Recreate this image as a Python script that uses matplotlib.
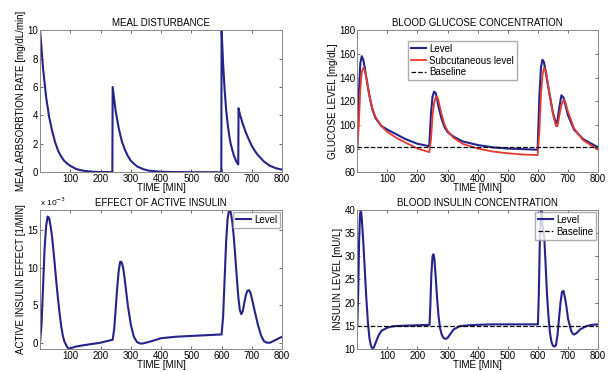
import matplotlib
matplotlib.use('Agg')
from matplotlib import pyplot as plt

plt.rcParams['font.family'] = ['Liberation Sans', 'DejaVu Sans']
plt.rcParams['font.size'] = 7

# meal disturbance
t_meal = [0,10,20,30,40,50,60,70,80,90,100,120,140,160,180,200,220,239,
          240,250,260,270,280,290,300,320,340,360,400,450,500,550,599,
          600,605,610,615,620,625,630,640,650,655,
          656,660,670,680,690,700,710,720,740,760,780,800]
meal = [10,7.3,5.3,3.9,2.9,2.1,1.5,1.1,0.8,0.6,0.45,0.22,0.12,0.06,0.03,0.015,0.01,0.01,
        6.0,4.3,3.1,2.2,1.6,1.15,0.8,0.42,0.22,0.11,0.03,0.01,0.0,0.0,0.0,
        10,7.6,5.8,4.4,3.4,2.6,2.0,1.2,0.7,0.55,
        4.5,4.1,3.4,2.8,2.3,1.85,1.5,1.2,0.75,0.45,0.28,0.18]

# blood glucose
t_glu = [0,5,10,15,20,25,30,40,50,60,80,100,130,160,200,239,
         245,250,255,260,265,270,280,290,300,320,350,400,450,500,550,599,
         605,610,615,620,625,630,640,650,660,665,670,678,685,690,700,720,750,800]
glu_level = [81,125,152,158,155,148,140,125,113,106,99,96,92,88,84,82,
             110,124,128,127,122,115,105,98,94,90,86,83,81,80,79.5,79,
             125,148,155,153,146,138,124,110,101,104,113,125,123,118,108,96,88,81]
glu_sub = [81,100,130,145,148,146,140,125,114,107,99,94,89,85,80,77,
           88,108,118,123,124,120,109,100,95,89,84,80,77.5,76,75,74.5,
           95,125,142,148,147,140,124,109,99,99,106,117,121,120,111,97,87,79]
glu_base = 81

# active insulin effect (x 10^-3)
t_eff = [0,5,10,15,20,25,30,35,40,45,50,55,60,65,70,75,80,90,95,100,120,150,200,240,
         245,250,255,260,265,270,275,280,285,290,300,310,320,330,340,360,400,450,500,550,600,
         605,610,615,620,625,630,635,640,645,650,655,660,665,670,675,680,685,690,695,
         700,710,720,730,740,750,760,770,780,800]
eff = [0,2.5,7.5,12.5,15.5,16.8,16.6,15.5,14.0,12.0,9.8,7.6,5.6,3.8,2.2,1.0,0.2,-0.6,-0.8,-0.75,-0.5,-0.3,0,0.4,
       1.8,4.5,7.3,9.6,10.8,10.7,9.9,8.4,6.7,5.0,2.4,0.8,0.1,-0.1,-0.1,0.1,0.6,0.8,0.9,1.0,1.1,
       3.5,8.5,13.5,16.6,17.7,17.4,16.2,14.2,11.6,8.8,6.2,4.4,3.8,4.2,5.3,6.3,6.9,7.0,6.7,
       5.9,4.1,2.4,1.0,0.2,0.0,0.0,0.2,0.4,0.8]

# blood insulin
t_ins = [0,3,6,9,12,15,20,25,30,35,40,45,50,55,60,70,80,100,120,150,200,240,
         243,246,250,253,256,260,265,270,275,280,285,290,295,300,310,320,340,370,400,450,500,550,600,
         603,606,609,612,615,618,621,625,630,635,640,645,650,655,660,665,670,675,680,685,690,695,
         700,710,715,720,730,740,760,780,800]
ins = [15,22,33,39,40,38,33,27,21,16,12.5,10.8,10.1,10.3,11.2,12.8,13.9,14.6,14.9,15.0,15.1,15.2,
       20,26,30,30.4,29.5,26,21,17,14.5,13.2,12.5,12.2,12.2,12.4,13.3,14.2,14.9,15.1,15.2,15.3,15.3,15.3,15.3,
       22,32,38,40,37,35.5,34,29,22,17,13.5,11.5,10.7,10.5,10.8,13,16.5,20,22.3,22.5,21,19,
       16.5,14,13.3,13.1,13.5,14.2,14.9,15.2,15.3]
ins_base = 15

blue = '#24248c'
red = '#e8392d'
xt = [100,200,300,400,500,600,700,800]

fig = plt.figure(figsize=(6.16, 3.72), dpi=100)
ax1 = fig.add_axes([0.065, 0.537, 0.393, 0.382])
ax2 = fig.add_axes([0.580, 0.537, 0.391, 0.382])
ax3 = fig.add_axes([0.065, 0.062, 0.393, 0.374])
ax4 = fig.add_axes([0.580, 0.062, 0.391, 0.374])

ax1.plot(t_meal, meal, color=blue, lw=1.5)
ax1.set_ylim(0, 10)
ax1.set_yticks([0,2,4,6,8,10])
ax1.set_title('MEAL DISTURBANCE', fontsize=7, pad=3)
ax1.set_ylabel('MEAL ARBSORBTION RATE [mg/dL/min]', labelpad=1)

ax2.plot(t_glu, glu_level, color=blue, lw=1.5, label='Level')
ax2.plot(t_glu, glu_sub, color=red, lw=1.3, label='Subcutaneous level')
ax2.axhline(glu_base, color='black', ls='--', lw=0.9, label='Baseline')
ax2.set_ylim(60, 180)
ax2.set_yticks([60,80,100,120,140,160,180])
ax2.set_title('BLOOD GLUCOSE CONCENTRATION', fontsize=7, pad=3)
ax2.set_ylabel('GLUCOSE LEVEL [mg/dL]', labelpad=1)
ax2.legend(loc='upper left', bbox_to_anchor=(0.19, 0.96), fontsize=7, frameon=True,
           fancybox=False, edgecolor='#999999', handlelength=1.6, borderpad=0.3,
           labelspacing=0.2, handletextpad=0.3)

ax3.plot(t_eff, eff, color=blue, lw=1.5, label='Level')
ax3.set_ylim(-0.83, 17.7)
ax3.set_yticks([0,5,10,15])
ax3.set_title('EFFECT OF ACTIVE INSULIN', fontsize=7, pad=3)
ax3.set_ylabel('ACTIVE INSULIN EFFECT [1/MIN]', labelpad=1)
ax3.text(0.0, 1.01, 'x 10$^{-3}$', transform=ax3.transAxes, fontsize=6, ha='left', va='bottom')
ax3.legend(loc='upper right', fontsize=7, frameon=True, fancybox=False, edgecolor='#999999',
           handlelength=1.6, borderpad=0.3, handletextpad=0.3, borderaxespad=0.2)

ax4.plot(t_ins, ins, color=blue, lw=1.5, label='Level')
ax4.axhline(ins_base, color='black', ls='--', lw=0.9, label='Baseline')
ax4.set_ylim(10, 40)
ax4.set_yticks([10,15,20,25,30,35,40])
ax4.set_title('BLOOD INSULIN CONCENTRATION', fontsize=7, pad=3)
ax4.set_ylabel('INSULIN LEVEL [mU/L]', labelpad=1)
ax4.legend(loc='upper right', fontsize=7, frameon=True, fancybox=False, edgecolor='#999999',
           handlelength=1.6, borderpad=0.3, labelspacing=0.2, handletextpad=0.3, borderaxespad=0.2)

for ax in [ax1, ax2, ax3, ax4]:
    ax.set_xlim(0, 800)
    ax.set_xticks(xt)
    ax.set_xlabel('TIME [MIN]', labelpad=-1)
    ax.tick_params(direction='in', length=2.5, width=0.6, labelsize=7, pad=1.5,
                   top=True, right=True, colors='#555555', labelcolor='black')
    for s in ax.spines.values():
        s.set_color('#888888')
        s.set_linewidth(0.7)

fig.savefig('out.png', dpi=100)
